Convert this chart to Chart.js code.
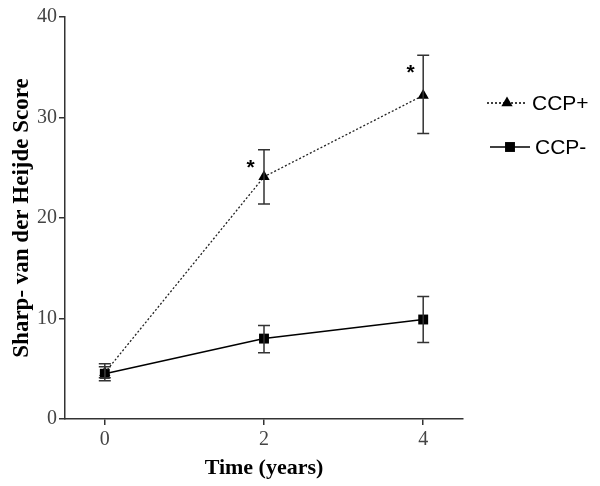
<!DOCTYPE html>
<html>
<head>
<meta charset="utf-8">
<script src="https://cdn.jsdelivr.net/npm/chart.js@4"></script>
<style>
  html, body { margin: 0; padding: 0; background: #fff; }
  #wrap { width: 600px; height: 486px; }
</style>
</head>
<body>
<div id="wrap"><canvas id="chart"></canvas></div>
<script>
// data
const times = [0, 2, 4];
const ccpPos = [4.6, 24.1, 32.2];
const ccpPosLow = [3.8, 21.4, 28.4];
const ccpPosHigh = [5.2, 26.8, 36.2];
const ccpNeg = [4.5, 8.0, 9.9];
const ccpNegLow = [4.1, 6.6, 7.6];
const ccpNegHigh = [5.5, 9.3, 12.2];
const xTicks = [0, 2, 4];
const yTicks = [0, 10, 20, 30, 40];
// significance stars
const starTimes = [1.83, 3.84];
const starScores = [25.4, 34.8];

const serif = "'Liberation Serif', 'Times New Roman', serif";
const sans = "'Liberation Sans', Arial, sans-serif";

// error bars, stars and the side legend
const extras = {
  id: 'extras',
  afterDatasetsDraw(chart) {
    const { ctx, scales: { x, y } } = chart;
    const bars = [[ccpPosLow, ccpPosHigh], [ccpNegLow, ccpNegHigh]];
    ctx.save();
    ctx.strokeStyle = '#333';
    ctx.lineWidth = 1.5;
    bars.forEach(([lo, hi]) => {
      times.forEach((t, i) => {
        const px = x.getPixelForValue(t);
        const y1 = y.getPixelForValue(lo[i]);
        const y2 = y.getPixelForValue(hi[i]);
        ctx.beginPath();
        ctx.moveTo(px, y1); ctx.lineTo(px, y2);
        ctx.moveTo(px - 6, y1); ctx.lineTo(px + 6, y1);
        ctx.moveTo(px - 6, y2); ctx.lineTo(px + 6, y2);
        ctx.stroke();
      });
    });

    ctx.fillStyle = '#000';
    ctx.font = 'bold 21px ' + sans;
    ctx.textAlign = 'center';
    ctx.textBaseline = 'middle';
    starTimes.forEach((t, i) => {
      ctx.fillText('*', x.getPixelForValue(t), y.getPixelForValue(starScores[i]) + 4);
    });

    // legend
    const items = [
      { label: 'CCP+', ds: chart.data.datasets[0], x0: 487, yy: 103 },
      { label: 'CCP-', ds: chart.data.datasets[1], x0: 490, yy: 147 }
    ];
    items.forEach(it => {
      ctx.beginPath();
      ctx.strokeStyle = '#000';
      ctx.lineWidth = it.ds.borderWidth;
      ctx.setLineDash(it.ds.borderDash || []);
      ctx.moveTo(it.x0, it.yy);
      ctx.lineTo(it.x0 + 40, it.yy);
      ctx.stroke();
      ctx.setLineDash([]);
      Chart.helpers.drawPoint(ctx, {
        pointStyle: it.ds.pointStyle,
        radius: it.ds.pointRadius,
        rotation: 0,
        borderWidth: 0
      }, it.x0 + 20, it.yy);
      ctx.fillStyle = '#000';
      ctx.font = '21px ' + sans;
      ctx.textAlign = 'left';
      ctx.fillText(it.label, it.x0 + 45, it.yy + 1);
    });
    ctx.restore();
  }
};

new Chart(document.getElementById('chart'), {
  type: 'line',
  data: {
    datasets: [
      {
        label: 'CCP+',
        data: times.map((t, i) => ({ x: t, y: ccpPos[i] })),
        borderColor: '#222',
        backgroundColor: '#000',
        borderWidth: 1.3,
        borderDash: [2, 2],
        pointStyle: 'triangle',
        pointRadius: 6.5,
        pointBorderWidth: 0,
        pointBackgroundColor: '#000'
      },
      {
        label: 'CCP-',
        data: times.map((t, i) => ({ x: t, y: ccpNeg[i] })),
        borderColor: '#000',
        backgroundColor: '#000',
        borderWidth: 1.5,
        pointStyle: 'rect',
        pointRadius: 7,
        pointBorderWidth: 0,
        pointBackgroundColor: '#000'
      }
    ]
  },
  plugins: [extras],
  options: {
    responsive: true,
    maintainAspectRatio: false,
    animation: false,
    layout: { padding: { top: 17, right: 137, left: 0, bottom: 0 } },
    plugins: {
      legend: { display: false },
      tooltip: { enabled: false }
    },
    scales: {
      x: {
        type: 'linear',
        min: -0.5,
        max: 4.5,
        afterBuildTicks: s => { s.ticks = xTicks.map(v => ({ value: v })); },
        afterFit: s => { s.height = 67; },
        border: { display: true, color: '#333', width: 1.5 },
        grid: { display: true, drawOnChartArea: false, drawTicks: true, tickLength: 6, color: '#333', lineWidth: 1.5 },
        ticks: { color: '#444', font: { family: serif, size: 20 }, padding: 3 },
        title: { display: true, text: 'Time (years)', color: '#000', font: { family: serif, size: 22, weight: 'bold' }, padding: { top: 4 } }
      },
      y: {
        min: 0,
        max: 40,
        afterBuildTicks: s => { s.ticks = yTicks.map(v => ({ value: v })); },
        afterFit: s => { s.width = 65; },
        border: { display: true, color: '#333', width: 1.5 },
        grid: { display: true, drawOnChartArea: false, drawTicks: true, tickLength: 6, color: '#333', lineWidth: 1.5 },
        ticks: { color: '#444', font: { family: serif, size: 20 }, padding: 2 },
        title: { display: true, text: 'Sharp- van der Heijde Score', color: '#000', font: { family: serif, size: 23, weight: 'bold' }, padding: { top: 8, bottom: 0 } }
      }
    }
  }
});
</script>
</body>
</html>
